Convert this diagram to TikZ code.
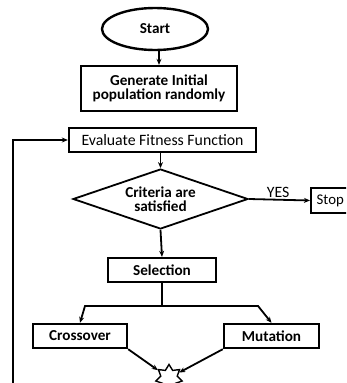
\documentclass[tikz,border=0pt]{standalone}
\usepackage{fontspec}
\setmainfont{Carlito}
\usetikzlibrary{shapes.geometric,arrows.meta}
\begin{document}
\begin{tikzpicture}[x=1pt,y=-1pt,
  box/.style={draw,line width=2.4pt,inner sep=0pt,align=center},
  bfont/.style={font=\fontsize{15.2}{16.5}\selectfont\bfseries},
  rfont/.style={font=\fontsize{15.8}{17}\selectfont},
  arr/.style={line width=1.8pt,-{Stealth[length=6pt,width=5pt]}},
  link/.style={line width=1.8pt}]
\useasboundingbox (0,0) rectangle (346,383);
\clip (0,0) rectangle (346,383);
\fill[white] (0,0) rectangle (346,383);

% flowchart blocks
\node[box,bfont,ellipse,minimum width=106pt,minimum height=42pt] (start) at (155,29) {Start};
\node[box,bfont,minimum width=156pt,minimum height=45pt] (gen) at (159,88.5) {Generate Initial\\[-2pt]population randomly};
\node[box,rfont,minimum width=187pt,minimum height=24pt] (eval) at (162.5,140) {Evaluate Fitness Function};
\node[box,bfont,diamond,aspect=2.9,minimum width=175pt,minimum height=60pt,line width=1.8pt] (crit) at (160.5,199) {Criteria are\\[-2pt]satisfied};
\node[box,font=\fontsize{14.8}{16}\selectfont,minimum height=25pt,anchor=west,inner xsep=5.5pt,text width=44pt,align=left] (stop) at (310,200.5) {Stop};
\node[box,bfont,minimum width=108pt,minimum height=24pt] (sel) at (162,270) {Selection};
\node[box,bfont,minimum width=94pt,minimum height=24pt] (cross) at (80,336) {Crossover};
\node[box,bfont,minimum width=95pt,minimum height=24pt] (mut) at (271.5,336) {Mutation};
\node[draw,star,star points=7,star point ratio=1.6,minimum size=27pt,inner sep=0pt,line width=1.4pt] (join) at (169,378) {};

% connectors
\draw[arr] (start.south -| gen.north) -- (gen.north);
\draw[arr] (eval.south -| crit.north) -- (crit.north);
\draw[arr] (crit.east) -- node[above,rfont,pos=0.48,inner sep=1pt]{YES} (stop.west);
\draw[arr] (crit.south) -- (sel.north);

\coordinate (bl) at (85,306);
\coordinate (br) at (258,306);
\draw[link] (sel.south) -- (sel.south |- bl);
\draw[arr] (sel.south |- bl) -- (bl) -- (cross.north);
\draw[arr] (sel.south |- br) -- (br) -- (mut.north);

\draw[arr] (cross.south east) -- (join);
\draw[arr] (mut.south west) -- (join);

\coordinate (loop) at (13,383);
\draw[arr] (loop) |- (eval.west);
\end{tikzpicture}
\end{document}
